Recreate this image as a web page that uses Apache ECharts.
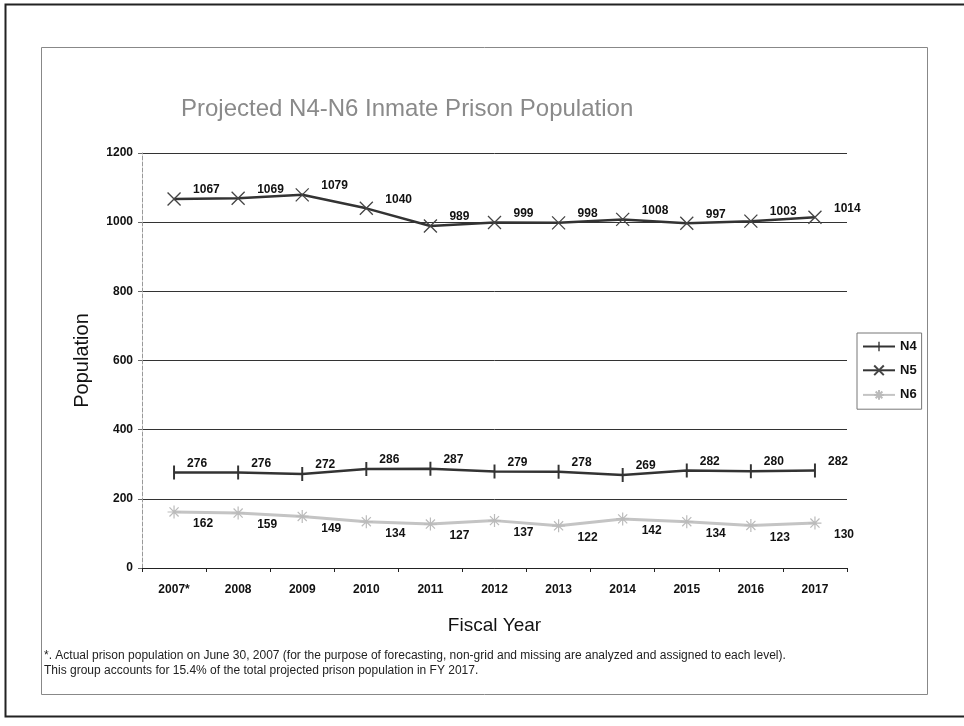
<!DOCTYPE html>
<html>
<head>
<meta charset="utf-8">
<script src="https://cdn.jsdelivr.net/npm/echarts@6/dist/echarts.min.js"></script>
<style>
  html, body {margin:0;padding:0;background:#fff;}
  #chart {width:964px;height:726px;}
</style>
</head>
<body>
<div id="chart"></div>
<script>
  var years = ['2007*', '2008', '2009', '2010', '2011', '2012', '2013', '2014', '2015', '2016', '2017'];
  var n4 = [276, 276, 272, 286, 287, 279, 278, 269, 282, 280, 282];
  var n5 = [1067, 1069, 1079, 1040, 989, 999, 998, 1008, 997, 1003, 1014];
  var n6 = [162, 159, 149, 134, 127, 137, 122, 142, 134, 123, 130];
  var yTicks = [0, 200, 400, 600, 800, 1000, 1200];

  var font = 'Liberation Sans, Arial, sans-serif';
  // thin vertical bar; the flat segment only widens the box to a square
  var bar = 'path://M4.3,0L5.7,0L5.7,10L4.3,10ZM0,5L10,5';
  var xMark = 'path://M0,0L10,10M10,0L0,10';
  var star = 'path://M5,0L5,10M0,5L10,5M1.5,1.5L8.5,8.5M8.5,1.5L1.5,8.5';

  function lbl(dist, dy) {
    return {
      show: true, position: 'right', distance: dist, offset: [0, dy],
      color: '#111', fontFamily: font, fontSize: 12, fontWeight: 'bold'
    };
  }

  var chart = echarts.init(document.getElementById('chart'));
  var option = {
    backgroundColor: '#fff',
    animation: false,
    title: {
      text: 'Projected N4-N6 Inmate Prison Population',
      left: 176, top: 92,
      textStyle: {fontFamily: font, fontSize: 24, fontWeight: 'normal', color: '#8a8a8a'}
    },
    grid: {left: 142, right: 117, top: 153, bottom: 158},
    legend: {
      orient: 'vertical',
      left: 857, top: 333,
      padding: [7, 5, 7, 5],
      itemGap: 10,
      itemWidth: 32, itemHeight: 12,
      borderColor: '#777', borderWidth: 1,
      backgroundColor: '#fff',
      textStyle: {fontFamily: font, fontSize: 13, fontWeight: 'bold', color: '#111'},
      data: ['N4', 'N5', 'N6']
    },
    xAxis: {
      type: 'category',
      data: years,
      boundaryGap: true,
      name: 'Fiscal Year',
      nameLocation: 'middle',
      nameGap: 48,
      nameTextStyle: {fontFamily: font, fontSize: 19, color: '#111'},
      axisLine: {lineStyle: {color: '#222', width: 1}},
      axisTick: {show: true, inside: false, length: 4, lineStyle: {color: '#222'}},
      axisLabel: {fontFamily: font, fontSize: 12, fontWeight: 'bold', color: '#111', margin: 16}
    },
    yAxis: {
      type: 'value',
      min: 0, max: 1200, interval: 200,
      name: 'Population',
      nameLocation: 'middle',
      nameGap: 50,
      nameTextStyle: {fontFamily: font, fontSize: 20, color: '#111'},
      axisLine: {show: true, lineStyle: {color: '#999', width: 1, type: 'dashed'}},
      axisTick: {show: true, length: 4, lineStyle: {color: '#666'}},
      axisLabel: {
        fontFamily: font, fontSize: 12, fontWeight: 'bold', color: '#111', margin: 9,
        formatter: function (v) { return yTicks.indexOf(v) >= 0 ? String(v) : ''; }
      },
      splitLine: {lineStyle: {color: '#333', width: 1}}
    },
    series: [
      {
        name: 'N4', type: 'line', data: n4,
        symbol: bar, symbolSize: 14,
        itemStyle: {color: '#333'},
        lineStyle: {color: '#333', width: 2.5},
        label: lbl(6, -9)
      },
      {
        name: 'N5', type: 'line', data: n5,
        symbol: xMark, symbolSize: 13,
        itemStyle: {color: 'none', borderColor: '#444', borderWidth: 1.3},
        lineStyle: {color: '#333', width: 2.5},
        label: lbl(10, -9)
      },
      {
        name: 'N6', type: 'line', data: n6,
        symbol: star, symbolSize: 13,
        itemStyle: {color: 'none', borderColor: '#bbb', borderWidth: 1.2},
        lineStyle: {color: '#c4c4c4', width: 3},
        label: lbl(10, 12)
      }
    ],
    graphic: [
      {
        type: 'rect', silent: true,
        shape: {x: 5.5, y: 4.5, width: 990, height: 712},
        style: {fill: 'none', stroke: '#222', lineWidth: 2}
      },
      {
        type: 'rect', silent: true,
        shape: {x: 41.5, y: 47.5, width: 886, height: 647},
        style: {fill: 'none', stroke: '#888', lineWidth: 1}
      },
      {
        type: 'text', left: 44, top: 648,
        style: {
          text: '*. Actual prison population on June 30, 2007 (for the purpose of forecasting, non-grid and missing are analyzed and assigned to each level).\nThis group accounts for 15.4% of the total projected prison population in FY 2017.',
          fontFamily: font, fontSize: 12, lineHeight: 15, fill: '#222'
        }
      }
    ]
  };
  chart.setOption(option);
</script>
</body>
</html>
